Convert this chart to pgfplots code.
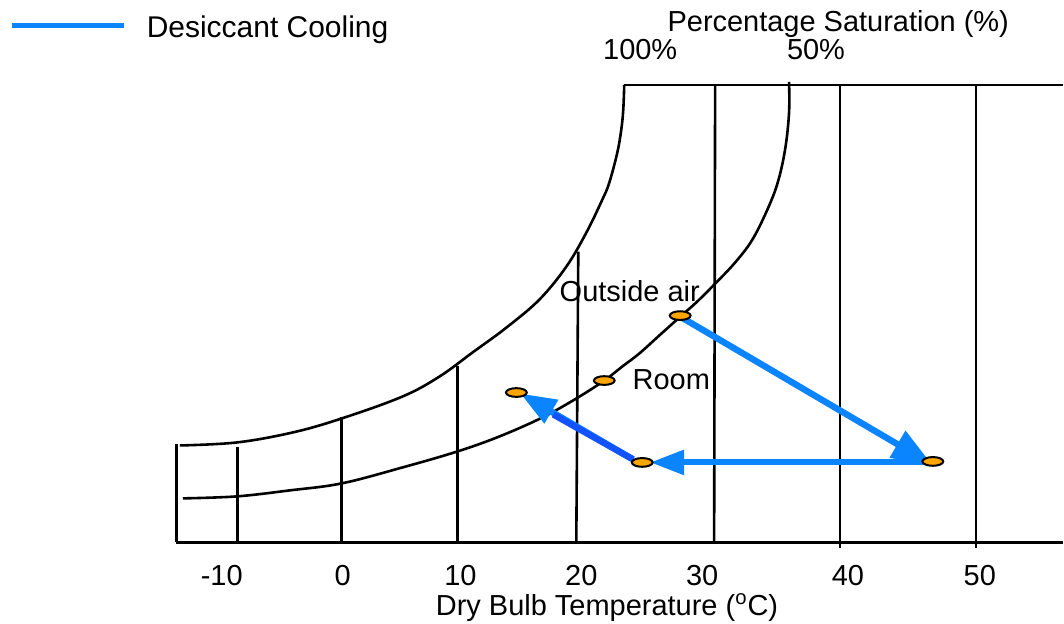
\documentclass[border=0pt]{standalone}
\usepackage{pgfplots}
\pgfplotsset{compat=1.18}
\usepackage{fontspec}
\setmainfont{Liberation Sans}
\usetikzlibrary{arrows.meta}
\definecolor{lblue}{RGB}{10,132,255}
\definecolor{dblue}{RGB}{18,82,255}
\definecolor{mk}{RGB}{255,165,0}
\begin{document}
\fontsize{14.5}{17}\selectfont
\begin{tikzpicture}
\begin{axis}[
 scale only axis, width=532pt, height=312pt,
 xmin=0, xmax=1064, ymin=0, ymax=624, y dir=reverse,
 axis line style={draw=none}, tick style={draw=none},
 ytick=\empty,
 xtick={222,343,461,582,703,849,981},
 xticklabels={-10,0,10,20,30,40,50},
 xticklabel pos=lower,
 xticklabel style={anchor=base, inner sep=0pt, yshift=19pt},
 clip=false,
 every axis title shift=0pt,
 xlabel={Dry Bulb Temperature (\textsuperscript{o}C)},
 xlabel style={at={(axis description cs:0.4098,0.01282)}, anchor=base west, inner sep=0pt},
 title={Percentage Saturation (\%)},
 title style={at={(axis description cs:0.6278,0.9487)}, anchor=base west, inner sep=0pt},
 legend style={at={(axis description cs:0.0094,0.9535)}, anchor=west, draw=none, fill=none,
   inner sep=0pt, outer sep=0pt, nodes={inner sep=0pt}, column sep=10pt,
   font=\fontsize{15}{17}\selectfont},
 legend image code/.code={\draw[#1,arrows=-,line width=2.5pt] (0pt,1.5pt) -- (56pt,1.5pt);},
]
% bounding frame
\addplot[forget plot, draw=none] coordinates {(0,0) (1064,624)};
% grid lines
\addplot[forget plot, black, line width=1.3pt] coordinates {(176,543) (1064,543)};
\addplot[forget plot, black, line width=1.3pt] coordinates {(177,445) (177,543)};
\addplot[forget plot, black, line width=1.3pt] coordinates {(238,448) (238,543)};
\addplot[forget plot, black, line width=1.3pt] coordinates {(342,418) (342,543)};
\addplot[forget plot, black, line width=1.3pt] coordinates {(458,366) (458,543)};
\addplot[forget plot, black, line width=1.3pt] coordinates {(579,252) (577,543)};
\addplot[forget plot, black, line width=1.3pt] coordinates {(716,85) (715,543)};
\addplot[forget plot, black, line width=1.3pt] coordinates {(841,85) (841,549)};
\addplot[forget plot, black, line width=1.3pt] coordinates {(977,85) (977,549)};
\addplot[forget plot, black, line width=1.3pt] coordinates {(625,85) (1064,85)};
% 100% saturation curve
\addplot[forget plot, black, line width=1.3pt, smooth, tension=0.6] coordinates {
 (625,85) (624,110) (622,130) (618,153) (610,183) (603,200) (587,233) (567,267)
 (540,300) (507,328) (473,353) (440,377) (403,397) (342,419) (293,433) (237,443) (180,446)};
% 50% saturation curve
\addplot[forget plot, black, line width=1.3pt, smooth, tension=0.6] coordinates {
 (790,82) (790,113) (786,150) (778,185) (766,215) (752,242) (735,264) (716,284)
 (698,302) (680,318) (660,336) (640,354) (623,367) (605,381) (577,399) (543,418)
 (500,437) (458,452) (403,468) (342,484) (290,491) (237,497) (183,499)};
% state points under arrows
\addplot[forget plot, only marks, mark=*, mark size=5.2pt,
 mark options={fill=mk, draw=black, line width=1pt, yscale=0.42}] coordinates {(681,316) (934,462)};
% process arrows
\addplot[lblue, line width=3.2pt, -{Triangle[length=20pt,width=15pt]}] coordinates {(681,317) (933,465)};
\addlegendentry{Desiccant Cooling}
\addplot[forget plot, lblue, line width=3pt, -{Triangle[length=17pt,width=12pt]}] coordinates {(934,463) (651,463)};
\addplot[forget plot, lblue, line width=3.2pt, -{Triangle[length=18pt,width=13pt]}] coordinates {(632,459) (521,394)};
\addplot[forget plot, dblue, line width=3.2pt] coordinates {(634,460) (554,415)};
% state points on top
\addplot[forget plot, only marks, mark=*, mark size=5.2pt,
 mark options={fill=mk, draw=black, line width=1pt, yscale=0.42}] coordinates {(605,381) (517,393) (643,463)};
% labels
\node[anchor=base, inner sep=0pt] at (axis cs:641,60) {100\%};
\node[anchor=base, inner sep=0pt] at (axis cs:817,60) {50\%};
\node[anchor=base west, inner sep=0pt] at (axis cs:560,302) {Outside air};
\node[anchor=base west, inner sep=0pt] at (axis cs:633,390) {Room};
\end{axis}
\end{tikzpicture}
\end{document}
